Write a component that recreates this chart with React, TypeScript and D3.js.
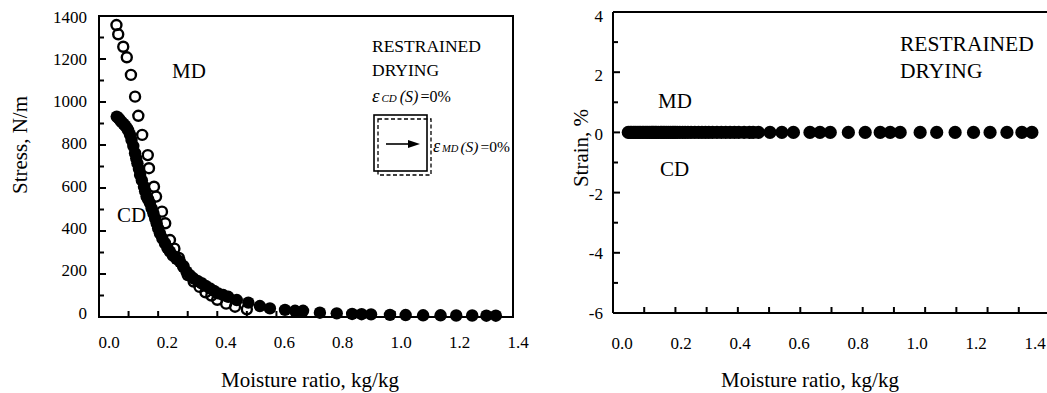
import React from "react";
import * as d3 from "d3";

// ---------- DATA ----------
const moistureTicks = [0, 0.2, 0.4, 0.6, 0.8, 1.0, 1.2, 1.4];
const stressTicks = [0, 200, 400, 600, 800, 1000, 1200, 1400];
const strainTicks = [-6, -4, -2, 0, 2, 4];

// CD (filled) stress vs moisture ratio
const cdMoisture = [0.060,0.066,0.071,0.077,0.083,0.088,0.094,0.099,0.105,0.110,0.116,0.122,0.126,0.130,0.135,0.139,0.145,0.152,0.156,0.161,0.166,0.172,0.178,0.184,0.190,0.195,0.200,0.206,0.214,0.223,0.231,0.240,0.250,0.262,0.274,0.285,0.296,0.307,0.319,0.333,0.347,0.361,0.375,0.389,0.403,0.420,0.437,0.466,0.505,0.544,0.578,0.629,0.663,0.690,0.747,0.804,0.856,0.888,0.920,0.984,1.037,1.096,1.155,1.208,1.262,1.310,1.342];
const cdStress = [932,925,916,906,898,890,880,868,848,823,795,762,738,715,688,660,635,606,585,560,548,530,505,482,458,436,412,389,366,343,322,304,285,270,257,233,211,195,180,168,157,145,133,121,110,102,94,79,67,51,40,33,29,29,20,17,14,13,12,10,9,8,8,7,7,6,6];

// MD (open) stress vs moisture ratio
const mdMoisture = [0.059,0.065,0.082,0.094,0.108,0.122,0.133,0.146,0.165,0.169,0.186,0.193,0.213,0.224,0.240,0.255,0.270,0.285,0.300,0.320,0.340,0.360,0.380,0.400,0.430,0.460,0.500];
const mdStress = [1358,1315,1257,1208,1126,1025,936,847,753,692,606,560,490,436,358,318,275,238,195,165,140,115,100,80,62,48,36];

// Strain vs moisture ratio (both MD and CD stay at 0 %)
const strainMoisture = [0.049,0.055,0.060,0.066,0.071,0.077,0.083,0.088,0.094,0.099,0.105,0.110,0.116,0.122,0.126,0.130,0.135,0.139,0.145,0.152,0.156,0.161,0.166,0.172,0.178,0.184,0.190,0.195,0.200,0.206,0.214,0.223,0.231,0.240,0.250,0.262,0.274,0.285,0.296,0.307,0.319,0.333,0.347,0.361,0.375,0.389,0.403,0.420,0.437,0.449,0.466,0.503,0.541,0.578,0.631,0.663,0.696,0.754,0.808,0.856,0.888,0.920,0.984,1.037,1.096,1.155,1.208,1.262,1.310,1.342];
const strainMD = [0,0,0,0,0,0,0,0,0,0,0,0,0,0,0,0,0,0,0,0,0,0,0,0,0,0,0,0,0,0,0,0,0,0,0,0,0,0,0,0,0,0,0,0,0,0,0,0,0,0,0,0,0,0,0,0,0,0,0,0,0,0,0,0,0,0,0,0,0,0];

// ---------- LAYOUT ----------
const W = 1047;
const H = 393;
const FONT = "'Liberation Serif', 'Times New Roman', serif";

const xL = d3.scaleLinear().domain([0, 1.4]).range([99, 513]);
const xLabL = d3.scaleLinear().domain([0, 1.4]).range([109, 518]);
const yL = d3.scaleLinear().domain([0, 1400]).range([317, 16]);
const yLabL = d3.scaleLinear().domain([0, 1400]).range([313, 17]);

const xR = d3.scaleLinear().domain([0, 1.4]).range([613, 1050]);
const xLabR = d3.scaleLinear().domain([0, 1.4]).range([622, 1035]);
const yR = d3.scaleLinear().domain([-6, 4]).range([313, 12]);
const yLabR = d3.scaleLinear().domain([-6, 4]).range([313, 16]);

const minorX = d3.range(0, 15).map((i) => i / 10);
const minorStress = d3.range(0, 15).map((i) => i * 100);
const minorStrain = d3.range(-6, 5);

export default function App() {
  const lw = 2;
  const t = { fontFamily: FONT };
  return (
    <svg
      width={W}
      height={H}
      style={{ position: "absolute", left: 0, top: 0, background: "#fff" }}
      fontFamily={FONT}
    >
      <rect x={0} y={0} width={W} height={H} fill="#fff" />

      {/* ============ LEFT PANEL ============ */}
      <g>
        <rect
          x={xL(0)}
          y={yL(1400)}
          width={xL(1.4) - xL(0)}
          height={yL(0) - yL(1400)}
          fill="none"
          stroke="#000"
          strokeWidth={lw}
        />
        {minorStress.map((v) => (
          <line
            key={"ly" + v}
            x1={xL(0)}
            x2={xL(0) + (v % 200 === 0 ? 7 : 5)}
            y1={yL(v)}
            y2={yL(v)}
            stroke="#000"
            strokeWidth={2}
          />
        ))}
        {minorX.map((v) => (
          <line
            key={"lx" + v}
            x1={xL(v)}
            x2={xL(v)}
            y1={yL(0)}
            y2={yL(0) - 6}
            stroke="#000"
            strokeWidth={2}
          />
        ))}
        {stressTicks.map((v) => (
          <text
            key={"lyl" + v}
            x={87}
            y={yLabL(v)}
            fontSize={17}
            textAnchor="end"
            dominantBaseline="central"
            style={t}
          >
            {v}
          </text>
        ))}
        {moistureTicks.map((v) => (
          <text
            key={"lxl" + v}
            x={xLabL(v)}
            y={348}
            fontSize={17}
            textAnchor="middle"
            style={t}
          >
            {v.toFixed(1)}
          </text>
        ))}
        <text x={310} y={387} fontSize={21} textAnchor="middle" style={t}>
          Moisture ratio, kg/kg
        </text>
        <text
          x={27}
          y={145}
          fontSize={21}
          textAnchor="middle"
          transform="rotate(-90 27 145)"
          style={t}
        >
          Stress, N/m
        </text>

        {mdMoisture.map((m, i) => (
          <circle
            key={"md" + i}
            cx={xL(m)}
            cy={yL(mdStress[i])}
            r={5}
            fill="none"
            stroke="#000"
            strokeWidth={2.4}
          />
        ))}
        {cdMoisture.map((m, i) => (
          <circle key={"cd" + i} cx={xL(m)} cy={yL(cdStress[i])} r={6.2} fill="#000" />
        ))}

        <text x={172} y={78} fontSize={21} style={t}>MD</text>
        <text x={117} y={222} fontSize={21} style={t}>CD</text>
        <text x={372} y={52} fontSize={17.5} style={t}>RESTRAINED</text>
        <text x={372} y={76} fontSize={17.5} style={t}>DRYING</text>

        <text x={372} y={102} fontSize={16} style={t}>
          <tspan fontStyle="italic" fontSize={19}>ε</tspan>
          <tspan fontStyle="italic" fontSize={11} dx={2}>CD</tspan>
          <tspan fontStyle="italic" dx={3}>(S)</tspan>
          <tspan dx={2}>=0%</tspan>
        </text>
        <rect x={374} y={115} width={53} height={56} fill="none" stroke="#000" strokeWidth={1.6} />
        <rect
          x={378}
          y={119}
          width={53}
          height={56}
          fill="none"
          stroke="#000"
          strokeWidth={1.3}
          strokeDasharray="4 2.5"
        />
        <line x1={386} x2={410} y1={144} y2={144} stroke="#000" strokeWidth={1.6} />
        <path d="M408,140 L420,144 L408,148 Z" fill="#000" />
        <text x={433} y={152} fontSize={15.5} style={t}>
          <tspan fontStyle="italic" fontSize={18}>ε</tspan>
          <tspan fontStyle="italic" fontSize={10.5} dx={2}>MD</tspan>
          <tspan fontStyle="italic" dx={2}>(S)</tspan>
          <tspan dx={2}>=0%</tspan>
        </text>
      </g>

      {/* ============ RIGHT PANEL ============ */}
      <g>
        <line x1={xR(0)} x2={xR(0)} y1={yR(-6)} y2={yR(4)} stroke="#000" strokeWidth={lw} />
        <line x1={xR(0)} x2={xR(1.4)} y1={yR(4)} y2={yR(4)} stroke="#000" strokeWidth={lw} />
        <line x1={xR(0)} x2={xR(1.4)} y1={yR(-6)} y2={yR(-6)} stroke="#000" strokeWidth={lw} />
        {minorStrain.map((v) => (
          <line
            key={"ry" + v}
            x1={xR(0)}
            x2={xR(0) + (v % 2 === 0 ? 7 : 5)}
            y1={yR(v)}
            y2={yR(v)}
            stroke="#000"
            strokeWidth={2}
          />
        ))}
        {minorX.map((v) => (
          <line
            key={"rx" + v}
            x1={xR(v)}
            x2={xR(v)}
            y1={yR(-6)}
            y2={yR(-6) - 6}
            stroke="#000"
            strokeWidth={2}
          />
        ))}
        {strainTicks.map((v) => (
          <text
            key={"ryl" + v}
            x={603}
            y={yLabR(v)}
            fontSize={17}
            textAnchor="end"
            dominantBaseline="central"
            style={t}
          >
            {v}
          </text>
        ))}
        {moistureTicks.map((v) => (
          <text
            key={"rxl" + v}
            x={xLabR(v)}
            y={349}
            fontSize={17}
            textAnchor="middle"
            style={t}
          >
            {v.toFixed(1)}
          </text>
        ))}
        <text x={810} y={387} fontSize={21} textAnchor="middle" style={t}>
          Moisture ratio, kg/kg
        </text>
        <text
          x={588}
          y={148}
          fontSize={21}
          textAnchor="middle"
          transform="rotate(-90 588 148)"
          style={t}
        >
          Strain, %
        </text>

        {strainMoisture.map((m, i) => (
          <circle key={"st" + i} cx={xR(m)} cy={yR(strainMD[i])} r={6.6} fill="#000" />
        ))}

        <text x={658} y={108} fontSize={21} style={t}>MD</text>
        <text x={660} y={176} fontSize={21} style={t}>CD</text>
        <text x={900} y={51} fontSize={21.5} style={t}>RESTRAINED</text>
        <text x={900} y={78} fontSize={21.5} style={t}>DRYING</text>
      </g>
    </svg>
  );
}
